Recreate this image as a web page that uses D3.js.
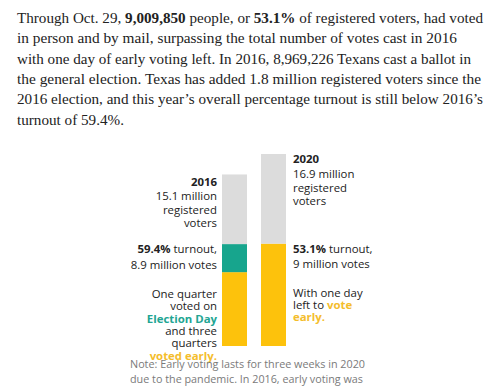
<!DOCTYPE html>
<html><head><meta charset="utf-8">
<script src="https://cdn.jsdelivr.net/npm/d3@7"></script>
<style>
html,body{margin:0;padding:0;background:#fff;}
svg{display:block;}
</style></head>
<body>
<svg id="chart" width="500" height="392"></svg>
<script>
// ---- data ----
const years = ["2016", "2020"];
const registeredM = [15.1, 16.9];      // registered voters (millions)
const votesM = [8.97, 9.01];           // total votes (millions)
const earlyM = [6.5, 9.01];            // early votes (millions)
const turnoutPct = ["59.4%", "53.1%"];
const registeredLabels = ["15.1 million", "16.9 million"];
const votesLabels = ["8.9 million votes", "9 million votes"];

const introLines = [
  [["Through Oct. 29, ", false], ["9,009,850", true], [" people, or ", false], ["53.1%", true], [" of registered voters, had voted", false]],
  [["in person and by mail, surpassing the total number of votes cast in 2016", false]],
  [["with one day of early voting left. In 2016, 8,969,226 Texans cast a ballot in", false]],
  [["the general election. Texas has added 1.8 million registered voters since the", false]],
  [["2016 election, and this year\u2019s overall percentage turnout is still below 2016\u2019s", false]],
  [["turnout of 59.4%.", false]]
];
const introWidths = [466, 440, 454, 464, 466, 107];
const noteLines = ["Note: Early voting lasts for three weeks in 2020", "due to the pandemic. In 2016, early voting was"];
const noteWidths = [235, 233];

const colGray = "#dcdcdc", colTeal = "#17a58d", colYellow = "#fdc20c";
const colYellowText = "#f4bd2c", colTealText = "#22a593";

const svg = d3.select("#chart");

// ---- intro paragraph ----
const intro = svg.append("g").attr("font-family", "'Liberation Serif', serif").attr("font-size", 15.5).attr("fill", "#222");
introLines.forEach((segs, i) => {
  const t = intro.append("text").attr("x", 17).attr("y", 22.7 + i * 20.4)
    .attr("textLength", introWidths[i]).attr("lengthAdjust", "spacingAndGlyphs");
  segs.forEach(([s, b]) => t.append("tspan").text(s).attr("font-weight", b ? "bold" : null));
});

// ---- scales ----
const x = d3.scaleBand().domain(years).range([222, 286]).paddingInner(0.359).paddingOuter(0);
const y = d3.scaleLinear().domain([0, 16.9]).range([346, 154]);

const rows = years.map((yr, i) => ({yr, reg: registeredM[i], votes: votesM[i], early: earlyM[i]}));
const segs = [];
rows.forEach(r => {
  segs.push({yr: r.yr, y0: 0, y1: r.early, c: colYellow});
  segs.push({yr: r.yr, y0: r.early, y1: r.votes, c: colTeal});
  segs.push({yr: r.yr, y0: r.votes, y1: r.reg, c: colGray});
});
svg.append("g").selectAll("rect").data(segs).join("rect")
  .attr("x", d => x(d.yr)).attr("width", x.bandwidth())
  .attr("y", d => y(d.y1)).attr("height", d => y(d.y0) - y(d.y1))
  .attr("fill", d => d.c);

// ---- labels ----
const lab = svg.append("g").attr("font-family", "'Open Sans', sans-serif").attr("font-size", 11.4).attr("fill", "#222");

// each part is its own text element, laid out by measured widths
function line(g, xx, yy, parts, anchor) {
  const els = parts.map(p => g.append("text").attr("y", yy).text(p.t)
    .attr("font-weight", p.b ? "bold" : null).attr("fill", p.c || null));
  const ws = els.map(e => e.node().getComputedTextLength());
  const total = d3.sum(ws);
  let cx = anchor === "end" ? xx - total : xx;
  els.forEach((e, i) => { e.attr("x", cx); cx += ws[i]; });
}

const lx = x("2016") - 5;
line(lab, lx, 186, [{t: years[0], b: true}], "end");
line(lab, lx, 200, [{t: registeredLabels[0]}], "end");
line(lab, lx, 213.5, [{t: "registered"}], "end");
line(lab, lx, 227, [{t: "voters"}], "end");
line(lab, lx, y(votesM[0]) + 9, [{t: turnoutPct[0], b: true}, {t: "\u00a0turnout,"}], "end");
line(lab, lx, y(votesM[0]) + 24.5, [{t: votesLabels[0]}], "end");
line(lab, lx, 298, [{t: "One quarter"}], "end");
line(lab, lx, 310.3, [{t: "voted on"}], "end");
line(lab, lx, 322.6, [{t: "Election Day", b: true, c: colTealText}], "end");
line(lab, lx, 334.9, [{t: "and three"}], "end");
line(lab, lx, 347.2, [{t: "quarters"}], "end");
line(lab, lx, 359.5, [{t: "voted early.", b: true, c: colYellowText}], "end");

const rx = x("2020") + x.bandwidth() + 7;
line(lab, rx, 163.3, [{t: years[1], b: true}], "start");
line(lab, rx, 177.5, [{t: registeredLabels[1]}], "start");
line(lab, rx, 191.5, [{t: "registered"}], "start");
line(lab, rx, 205, [{t: "voters"}], "start");
line(lab, rx, y(votesM[1]) + 9, [{t: turnoutPct[1], b: true}, {t: "\u00a0turnout,"}], "start");
line(lab, rx, y(votesM[1]) + 24.5, [{t: votesLabels[1]}], "start");
line(lab, rx, 297, [{t: "With one day"}], "start");
line(lab, rx, 309, [{t: "left to\u00a0"}, {t: "vote", b: true, c: colYellowText}], "start");
line(lab, rx, 321, [{t: "early.", b: true, c: colYellowText}], "start");

// ---- note ----
const note = svg.append("g").attr("font-family", "'Open Sans', sans-serif").attr("font-size", 11.2).attr("fill", "#7a7a7a");
noteLines.forEach((s, i) => {
  note.append("text").attr("x", 130).attr("y", 368 + i * 15.3).text(s)
    .attr("textLength", noteWidths[i]).attr("lengthAdjust", "spacingAndGlyphs");
});
</script>
</body></html>
